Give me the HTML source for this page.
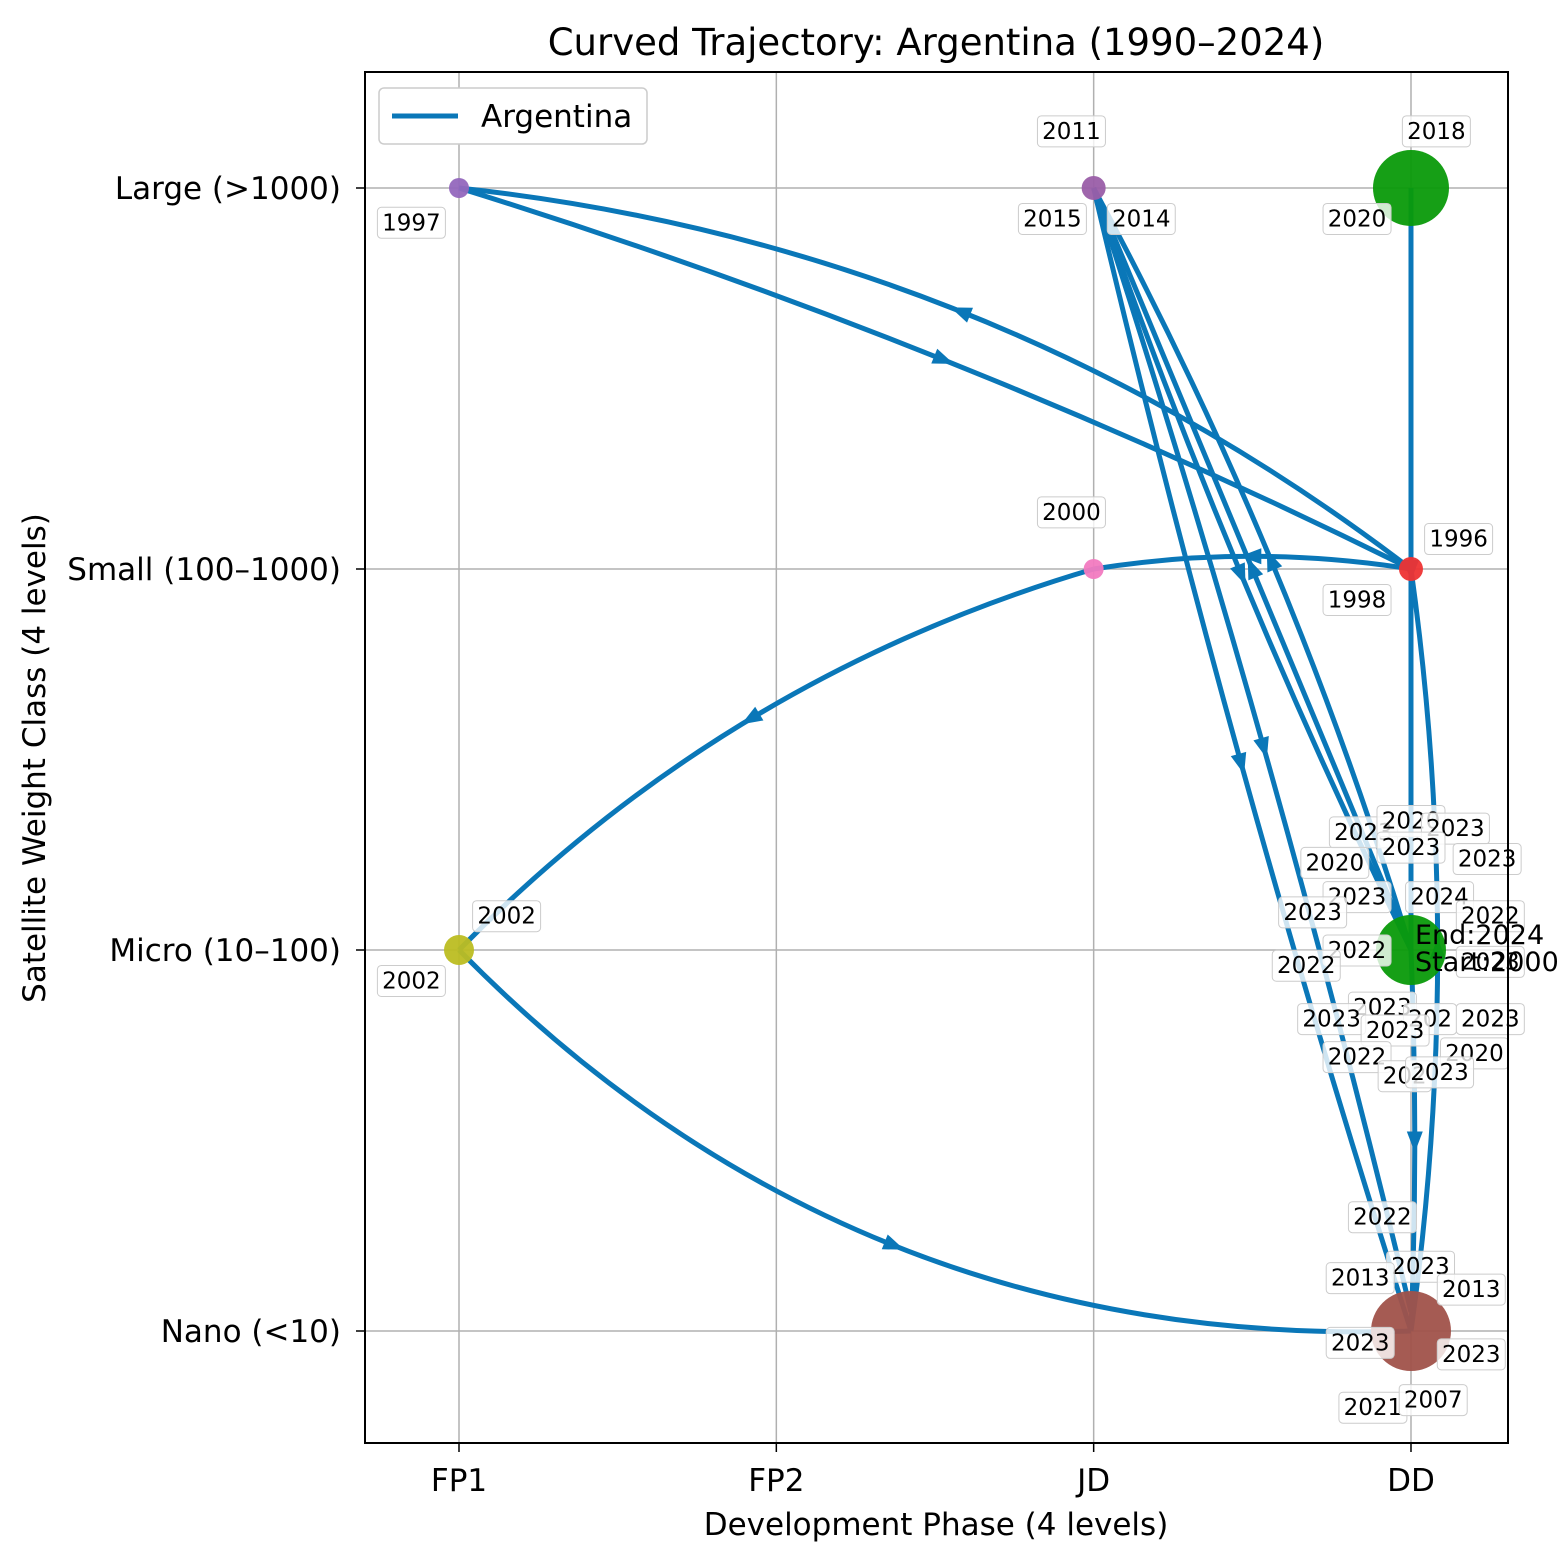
<!DOCTYPE html>
<html><head><meta charset="utf-8"><style>
body{margin:0;background:#fff}
svg{display:block;font-family:"DejaVu Sans","Liberation Sans",sans-serif}
</style></head><body>
<svg id="chart" width="1563" height="1555" viewBox="0 0 1563 1555">
<text x="936" y="55" font-size="37" text-anchor="middle">Curved Trajectory: Argentina (1990–2024)</text>
<g id="grid"></g>
<g id="curves"></g>
<g id="markers"></g>
<g id="labels"></g>
<rect x="365" y="72" width="1143" height="1371" fill="none" stroke="#000" stroke-width="2"/>
<g id="ticks"></g>
<text x="936" y="1535" font-size="31" text-anchor="middle">Development Phase (4 levels)</text>
<text transform="translate(45,758) rotate(-90)" font-size="31" text-anchor="middle">Satellite Weight Class (4 levels)</text>
<g>
<rect x="379" y="88" width="268" height="56" rx="5" fill="#fff" stroke="#ccc" stroke-width="1.5"/>
<line x1="392" y1="116" x2="458" y2="116" stroke="#0a77b8" stroke-width="5"/>
<text x="481" y="127" font-size="31">Argentina</text>
</g>
</svg>
<script>
const xCats=["FP1","FP2","JD","DD"];
const yCats=["Nano (<10)","Micro (10–100)","Small (100–1000)","Large (>1000)"];
const segFrom=[[3,2],[0,3],[3,2],[2,2],[0,1],[3,0],[3,3],[3,1],[2,3],[3,1],[3,1],[2,3],[2,3]];
const segTo  =[[0,3],[3,2],[2,2],[0,1],[3,0],[3,2],[3,1],[3,0],[3,0],[2,3],[2,3],[3,1],[3,0.05]];
const segRad =[-0.14,0.04,-0.08,-0.13,-0.22,-0.07,0,0.02,-0.02,0,-0.05,-0.03,0.02];
const mkPts=[[0,3],[2,3],[3,3],[3,2],[2,2],[0,1],[3,1],[3,0]];
const mkR=[10,12,38,12,10,15,35,40];
const mkCol=["#9467bd","#9a5ea8","#0a9a0a","#e33","#f27ac0","#bcbd22","#0a9a0a","#a0524a"];
const lblText=["1997","2011","2015","2014","2018","2020","2000","1996","1998","2002","2002",
"2023","2020","2023","2023","2023","2020","2023","2024","2023","2022","2022","2022","2023","2023","2023","202","2023","2023","2020","2022","202","2023",
"2022","2023","2013","2013","2023","2023","2021","2007"];
const lblX=[-0.15,1.93,1.87,2.15,3.08,2.83,1.93,3.15,2.83,0.15,-0.15,
2.85,3.0,3.14,3.0,3.24,2.76,2.83,3.09,2.69,3.25,2.83,2.67,3.25,2.91,2.75,3.06,3.25,2.95,3.2,2.83,2.98,3.09,
2.91,3.03,2.84,3.19,2.84,3.19,2.88,3.07];
const lblY=[2.91,3.15,2.92,2.92,3.15,2.92,2.15,2.08,1.92,1.09,0.92,
1.31,1.34,1.32,1.27,1.24,1.23,1.14,1.14,1.1,1.09,1.0,0.96,0.97,0.85,0.82,0.82,0.82,0.79,0.73,0.72,0.67,0.68,
0.3,0.17,0.14,0.11,-0.03,-0.06,-0.2,-0.18];

const NS="http://www.w3.org/2000/svg";
const X=v=>459+v*317.33, Y=v=>1331-v*381;
function el(t,a,p){const e=document.createElementNS(NS,t);for(const k in a)e.setAttribute(k,a[k]);document.getElementById(p).appendChild(e);return e;}
xCats.forEach((c,i)=>{
 const g=el("line",{x1:X(i),x2:X(i),y1:72,y2:1443,stroke:"#b0b0b0","stroke-width":1.5},"grid");
 
 
 el("line",{x1:X(i),x2:X(i),y1:1443,y2:1452,stroke:"#000","stroke-width":1.5},"ticks");
 const t=el("text",{x:X(i),y:1491,"font-size":31,"text-anchor":"middle"},"ticks");t.textContent=c;
 
 
});
yCats.forEach((c,i)=>{
 const g=el("line",{x1:365,x2:1508,y1:Y(i),y2:Y(i),stroke:"#b0b0b0","stroke-width":1.5},"grid");
 
 
 el("line",{x1:356,x2:365,y1:Y(i),y2:Y(i),stroke:"#000","stroke-width":1.5},"ticks");
 const t=el("text",{x:341,y:Y(i)+11,"font-size":31,"text-anchor":"end"},"ticks");t.textContent=c;
 
 
});
segFrom.forEach((f,i)=>{
 const ax=X(f[0]),ay=Y(f[1]),bx=X(segTo[i][0]),by=Y(segTo[i][1]);
 const dx=bx-ax,dy=by-ay,r=segRad[i];
 const cx=(ax+bx)/2+r*dy,cy=(ay+by)/2-r*dx;
 const p=el("path",{d:`M${ax},${ay} Q${cx},${cy} ${bx},${by}`,fill:"none",stroke:"#0a77b8","stroke-width":5},"curves");
 
 
 const mx=0.25*ax+0.5*cx+0.25*bx,my=0.25*ay+0.5*cy+0.25*by;
 const tx=bx-ax,ty=by-ay,L=Math.hypot(tx,ty)||1,ux=tx/L,uy=ty/L;
 const a=el("polygon",{points:`${mx+ux*12},${my+uy*12} ${mx-ux*9-uy*8},${my-uy*9+ux*8} ${mx-ux*9+uy*8},${my-uy*9-ux*8}`,fill:"#0a77b8"},"curves");
 
 
});
mkPts.forEach((p,i)=>{
 const c=el("circle",{cx:X(p[0]),cy:Y(p[1]),r:mkR[i],fill:mkCol[i],opacity:0.95},"markers");
 
 
});
lblText.forEach((s,i)=>{
 const x=X(lblX[i]),y=Y(lblY[i]);
 const w=s.length*15+8;
 const r=el("rect",{x:x-w/2,y:y-15,width:w,height:31,rx:4,fill:"#fff","fill-opacity":0.8,stroke:"#ccc"},"labels");
 
 
 const t=el("text",{x:x,y:y+8,"font-size":23,"text-anchor":"middle"},"labels");t.textContent=s;
 
 
});
const e1=el("text",{x:1415,y:944,"font-size":27},"labels");e1.textContent="End:2024";


const e2=el("text",{x:1415,y:971,"font-size":27},"labels");e2.textContent="Start:2000";


</script>
</body></html>
